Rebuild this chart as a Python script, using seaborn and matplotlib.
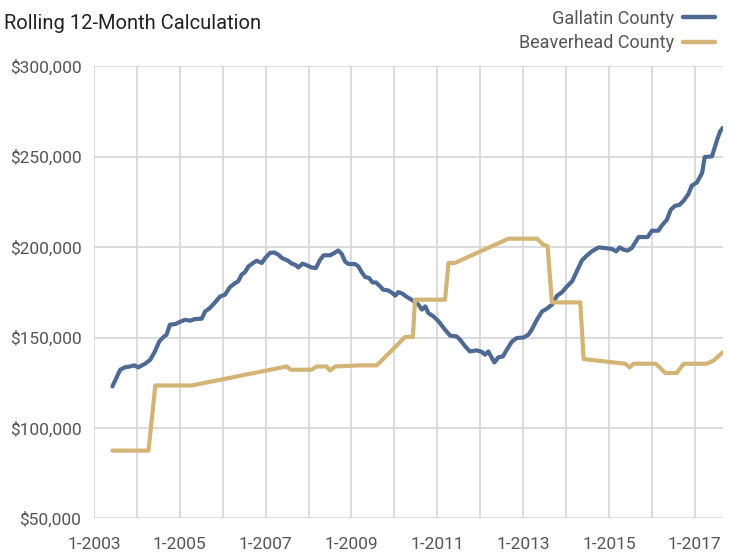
import numpy as np
import pandas as pd
import matplotlib
matplotlib.use("Agg")
import matplotlib.pyplot as plt
from matplotlib.ticker import FuncFormatter
import seaborn as sns

# rolling 12-month values (decimal year, dollars)
gallatin_year = [
    2003.43, 2003.61, 2003.72, 2003.84, 2003.94, 2004.03, 2004.19, 2004.31, 2004.42, 2004.52,
    2004.62, 2004.69, 2004.77, 2004.89, 2005.00, 2005.12, 2005.24, 2005.35, 2005.51, 2005.59,
    2005.70, 2005.82, 2005.94, 2006.05, 2006.17, 2006.29, 2006.36, 2006.44, 2006.52, 2006.60,
    2006.71, 2006.79, 2006.91, 2006.99, 2007.10, 2007.20, 2007.30, 2007.38, 2007.51, 2007.61,
    2007.69, 2007.76, 2007.86, 2007.97, 2008.07, 2008.17, 2008.27, 2008.35, 2008.50, 2008.60,
    2008.69, 2008.77, 2008.85, 2008.93, 2009.08, 2009.16, 2009.24, 2009.32, 2009.41, 2009.49,
    2009.57, 2009.67, 2009.74, 2009.86, 2009.95, 2010.02, 2010.09, 2010.19, 2010.27, 2010.37,
    2010.46, 2010.56, 2010.64, 2010.72, 2010.79, 2010.91, 2011.03, 2011.18, 2011.30, 2011.45,
    2011.53, 2011.65, 2011.76, 2011.92, 2012.04, 2012.11, 2012.19, 2012.27, 2012.33, 2012.42,
    2012.53, 2012.62, 2012.74, 2012.85, 2013.01, 2013.12, 2013.20, 2013.32, 2013.44, 2013.55,
    2013.67, 2013.79, 2013.90, 2014.02, 2014.14, 2014.25, 2014.37, 2014.48, 2014.60, 2014.76,
    2014.91, 2015.07, 2015.17, 2015.25, 2015.34, 2015.43, 2015.53, 2015.61, 2015.69, 2015.90,
    2016.00, 2016.15, 2016.23, 2016.35, 2016.44, 2016.54, 2016.64, 2016.74, 2016.85, 2016.93,
    2017.05, 2017.17, 2017.23, 2017.40, 2017.52, 2017.59, 2017.65,
]
gallatin_value = [
    123000, 132200, 133500, 134000, 134600, 133500, 135500, 137700, 142300, 147800,
    150300, 151500, 157100, 157400, 158600, 159800, 159300, 160200, 160400, 164400,
    166300, 169400, 172700, 173600, 177900, 180100, 181000, 184700, 186200, 189300,
    191200, 192400, 191200, 193900, 196700, 197000, 195700, 193900, 192600, 190800,
    190200, 188700, 190800, 189800, 188700, 188400, 193000, 195400, 195400, 196700,
    198100, 196300, 192000, 190600, 190600, 189300, 186000, 183400, 182900, 180400,
    180400, 178200, 176400, 176000, 174600, 173100, 175100, 174200, 172700, 171300,
    169900, 168100, 165400, 167200, 163500, 161700, 158900, 154300, 151000, 150600,
    148800, 145100, 142300, 142900, 142000, 140500, 142300, 138700, 136200, 139000,
    139600, 143300, 147800, 149700, 150000, 151500, 154300, 159800, 164400, 165900,
    168100, 173100, 174900, 178200, 181000, 186500, 192600, 195200, 197600, 199800,
    199400, 198900, 197600, 199800, 198500, 198000, 199400, 202500, 205500, 205500,
    209000, 209000, 211800, 215100, 220600, 222800, 223200, 225600, 229300, 233900,
    235700, 240900, 249700, 250100, 259300, 263900, 265800,
]

beaverhead_year = [
    2003.43, 2004.27, 2004.43, 2005.28, 2007.49, 2007.58, 2008.07, 2008.19, 2008.42, 2008.50,
    2008.62, 2009.01, 2009.16, 2009.59, 2010.25, 2010.43, 2010.48, 2011.18, 2011.26, 2011.41,
    2012.66, 2013.32, 2013.47, 2013.57, 2013.67, 2014.33, 2014.41, 2015.38, 2015.48, 2015.57,
    2016.08, 2016.20, 2016.31, 2016.58, 2016.74, 2017.28, 2017.44, 2017.65,
]
beaverhead_value = [
    87500, 87500, 123500, 123500, 134000, 132200, 132200, 134000, 134000, 131800,
    134000, 134400, 134600, 134600, 150300, 150300, 170900, 170900, 191200, 191200,
    204600, 204600, 201300, 200500, 169400, 169400, 138100, 135500, 133500, 135500,
    135500, 133100, 130400, 130400, 135500, 135500, 137300, 141800,
]

series_names = ["Gallatin County", "Beaverhead County"]
series_colors = ["#4e6993", "#d3b475"]
year_ticks = list(range(2003, 2018))
year_labels = [f"1-{y}" if y % 2 == 1 else "" for y in year_ticks]
value_ticks = [50000, 100000, 150000, 200000, 250000, 300000]

df = pd.concat([
    pd.DataFrame({"year": gallatin_year, "value": gallatin_value, "county": series_names[0]}),
    pd.DataFrame({"year": beaverhead_year, "value": beaverhead_value, "county": series_names[1]}),
])

sns.set_style("whitegrid")
plt.rcParams["font.family"] = ["Roboto", "DejaVu Sans"]

grid_c = "#d9d9d9"
text_c = "#555555"

fig = plt.figure(figsize=(7.32, 5.52), dpi=100)
ax = fig.add_axes([0.1284, 0.0607, 0.8589, 0.8197])

sns.lineplot(data=df, x="year", y="value", hue="county", hue_order=series_names,
             palette=series_colors, estimator=None, sort=True, linewidth=3.0, ax=ax,
             legend=False)

ax.set_xlim(2003.0, gallatin_year[-1])
ax.set_ylim(50000, 300000)
ax.set_xticks(year_ticks)
ax.set_xticklabels(year_labels)
ax.set_yticks(value_ticks)
ax.yaxis.set_major_formatter(FuncFormatter(lambda v, p: f"${v:,.0f}"))
ax.set_xlabel("")
ax.set_ylabel("")

ax.grid(True, color=grid_c, linewidth=1.3)
for s in ax.spines.values():
    s.set_visible(False)
ax.tick_params(axis="both", which="both", length=5, width=1.3, color=grid_c,
               labelcolor=text_c, labelsize=12.5, pad=4)
ax.tick_params(axis="x", pad=8)
ax.set_axisbelow(True)

fig.text(0.006, 0.975, "Rolling 12-Month Calculation", fontsize=14.5, color="#222222",
         ha="left", va="top")

handles = [plt.Line2D([], [], color=c, linewidth=3.2) for c in series_colors]
fig.legend(handles, series_names, loc="upper right", bbox_to_anchor=(0.999, 1.012),
           frameon=False, markerfirst=False, handlelength=1.8, handletextpad=0.45,
           labelspacing=0.35, fontsize=13, labelcolor=text_c)

fig.savefig("out.png", dpi=100)
